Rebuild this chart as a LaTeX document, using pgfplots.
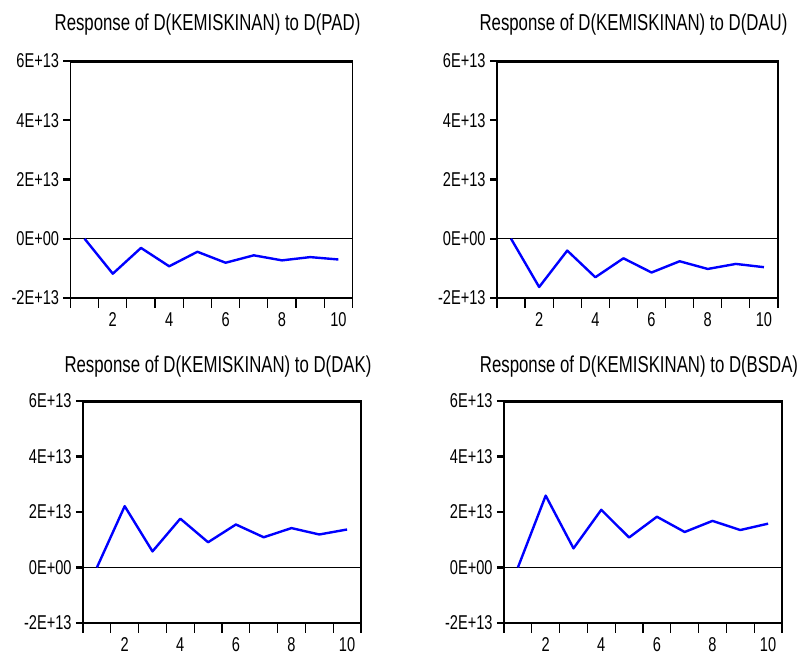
\documentclass[border=0pt]{standalone}
\usepackage{fontspec}
\setmainfont{Liberation Sans}[FakeStretch=0.73]
\usepackage{pgfplots}
\pgfplotsset{compat=1.18}

% common look of the four EViews impulse response panels
\pgfplotsset{
  irf/.style={
    scale only axis,
    anchor=north west,
    clip=false,
    xmin=0.5, xmax=10.5,
    ymin=-2e13, ymax=6e13,
    xtick={2,4,6,8,10},
    xticklabels={2,4,6,8,10},
    minor xtick={0.5,1.5,...,10.5},
    ytick={-2e13,0,2e13,4e13,6e13},
    yticklabels={-2E+13,0E+00,2E+13,4E+13,6E+13},
    scaled y ticks=false,
    tick pos=left,
    tick align=outside,
    major tick length=3.5pt,
    minor tick length=5pt,
    major x tick style={draw=none},
    minor x tick style={black, line width=0.6pt},
    y tick style={black, line width=1.1pt},
    axis line style={black, line width=0.6pt},
    yticklabel style={font=\fontsize{10}{12}\selectfont, inner sep=2pt},
    xticklabel style={font=\fontsize{10}{12}\selectfont, inner sep=2pt, yshift=-1.5pt},
    every axis title/.style={at={(0.5,1)}, anchor=base, yshift=15pt, xshift=-2pt,
      inner sep=0pt, font=\fontsize{11.5}{13}\selectfont},
  },
  zero/.style={black, line width=0.5pt, forget plot},
  resp/.style={blue, line width=1.2pt, line join=round},
}

\newcommand{\frameTB}{%
  \draw[line width=1.5pt] (rel axis cs:0,1) -- (rel axis cs:1,1);
  \draw[line width=1.3pt] (rel axis cs:0,0) -- (rel axis cs:1,0);
}

\begin{document}
\begin{tikzpicture}
\useasboundingbox (0,0) rectangle (400pt,-326.5pt);

% top left: PAD
\begin{axis}[irf, at={(35.25pt,-30.5pt)}, width=141pt, height=118.5pt,
  title={Response of D(KEMISKINAN) to D(PAD)}]
  \addplot[zero] coordinates {(0.5,0) (10.5,0)};
  \addplot[resp] coordinates {
    (1,0) (2,-1.18e13) (3,-0.31e13) (4,-0.93e13) (5,-0.44e13)
    (6,-0.81e13) (7,-0.56e13) (8,-0.73e13) (9,-0.62e13) (10,-0.70e13)
  };
  \frameTB
\end{axis}

% top right: DAU
\begin{axis}[irf, at={(248.5pt,-30.5pt)}, width=140.5pt, height=118.5pt,
  title={Response of D(KEMISKINAN) to D(DAU)}]
  \addplot[zero] coordinates {(0.5,0) (10.5,0)};
  \addplot[resp] coordinates {
    (1,0) (2,-1.63e13) (3,-0.40e13) (4,-1.30e13) (5,-0.66e13)
    (6,-1.14e13) (7,-0.76e13) (8,-1.02e13) (9,-0.85e13) (10,-0.96e13)
  };
  \frameTB
\end{axis}

% bottom left: DAK
\begin{axis}[irf, at={(41.5pt,-200.5pt)}, width=139pt, height=111pt,
  every axis title/.append style={yshift=-0.5pt},
  title={Response of D(KEMISKINAN) to D(DAK)}]
  \addplot[zero] coordinates {(0.5,0) (10.5,0)};
  \addplot[resp] coordinates {
    (1,0) (2,2.21e13) (3,0.58e13) (4,1.76e13) (5,0.91e13)
    (6,1.55e13) (7,1.09e13) (8,1.42e13) (9,1.19e13) (10,1.37e13)
  };
  \frameTB
\end{axis}

% bottom right: BSDA
\begin{axis}[irf, at={(252pt,-200.5pt)}, width=139pt, height=111pt,
  every axis title/.append style={yshift=-0.5pt},
  title={Response of D(KEMISKINAN) to D(BSDA)}]
  \addplot[zero] coordinates {(0.5,0) (10.5,0)};
  \addplot[resp] coordinates {
    (1,0) (2,2.59e13) (3,0.69e13) (4,2.08e13) (5,1.08e13)
    (6,1.83e13) (7,1.28e13) (8,1.68e13) (9,1.35e13) (10,1.58e13)
  };
  \frameTB
\end{axis}
\end{tikzpicture}
\end{document}
